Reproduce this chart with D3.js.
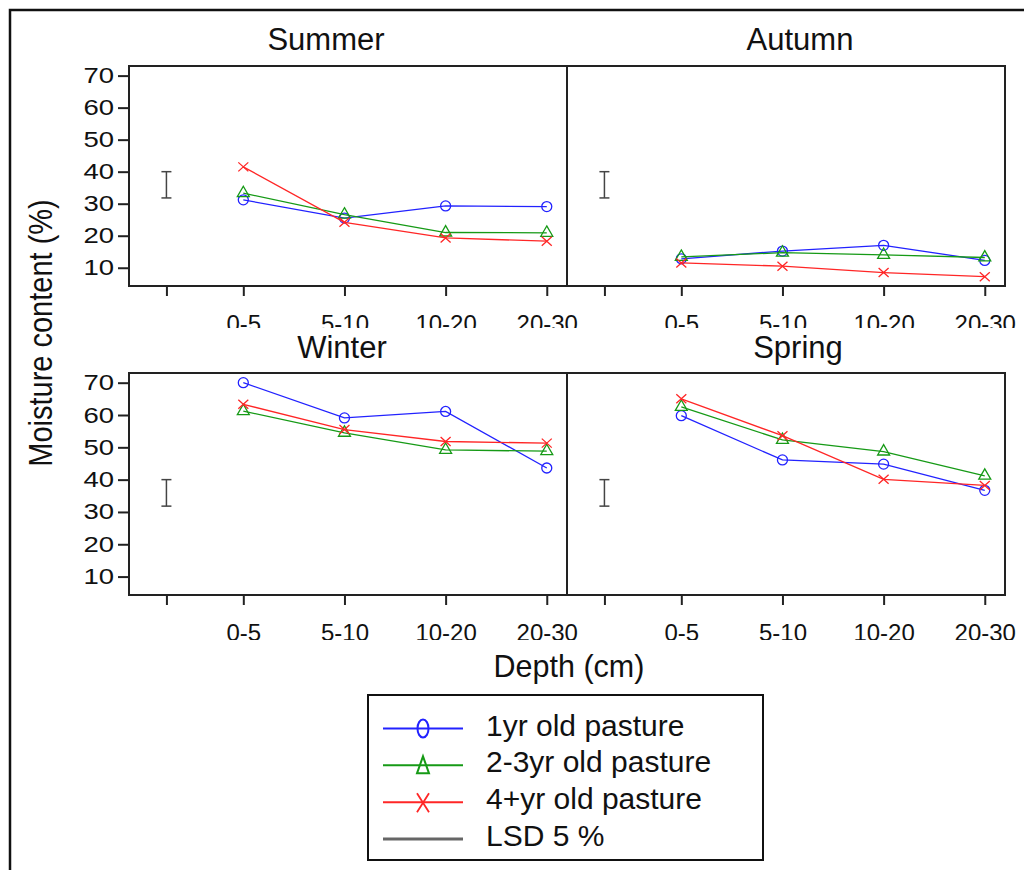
<!DOCTYPE html>
<html>
<head>
<meta charset="utf-8">
<script src="https://cdn.jsdelivr.net/npm/d3@7"></script>
<style>
  body { margin: 0; background: #fff; }
  text { font-family: "Liberation Sans", Arial, sans-serif; fill: #111; }
</style>
</head>
<body>
<svg id="chart"></svg>
<script>
// ---- data ----
const seasons = ["Summer", "Autumn", "Winter", "Spring"];
const depths = ["0-5", "5-10", "10-20", "20-30"];
const pastures = ["1yr old pasture", "2-3yr old pasture", "4+yr old pasture"];
const yTicks = [10, 20, 30, 40, 50, 60, 70];

// moisture content (%) per season, by depth
const oneYr = [
  [31.2, 25.5, 29.3, 29.1],
  [12.8, 15.2, 17.0, 12.3],
  [70.0, 59.1, 61.1, 43.6],
  [59.8, 46.1, 44.8, 36.7]
];
const twoThreeYr = [
  [33.3, 26.6, 21.0, 20.9],
  [13.4, 14.7, 14.0, 13.2],
  [61.2, 54.5, 49.2, 48.8],
  [62.5, 52.3, 48.7, 41.2]
];
const fourPlusYr = [
  [41.5, 24.2, 19.3, 18.3],
  [11.5, 10.5, 8.5, 7.2],
  [63.3, 55.5, 51.8, 51.3],
  [65.0, 53.6, 40.1, 38.2]
];
// LSD 5% bar (low, high), same in every panel
const lsdLow = [31.8, 31.8, 31.8, 31.8];
const lsdHigh = [40, 40, 40, 40];

// ---- layout ----
const width = 1024, height = 870;
const colX = [[129, 567], [567, 1005]];
const rowY = [[66, 286], [373, 595]];
const titleX = [326, 800, 342, 798];
const titleY = [50, 50, 358, 358];
const clipY = [[0, 328], [328, 640]];
const lsdPos = 0.24;

const colors = ["#2222ff", "#169a16", "#ff2626"];
const shapes = ["circle", "triangle", "cross"];
const series = [oneYr, twoThreeYr, fourPlusYr];

const svg = d3.select("#chart")
  .attr("width", width)
  .attr("height", height);

// outer frame
svg.append("rect")
  .attr("x", 10).attr("y", 10)
  .attr("width", 1040).attr("height", 900)
  .attr("fill", "none")
  .attr("stroke", "#111")
  .attr("stroke-width", 2.5);

const defs = svg.append("defs");
clipY.forEach((c, i) => {
  defs.append("clipPath").attr("id", "clipRow" + i)
    .append("rect")
    .attr("x", 0).attr("y", c[0])
    .attr("width", width).attr("height", c[1] - c[0]);
});

function drawMarker(g, shape, x, y, color) {
  if (shape === "circle") {
    g.append("circle").attr("cx", x).attr("cy", y).attr("r", 5)
      .attr("fill", "none").attr("stroke", color).attr("stroke-width", 1.3);
  } else if (shape === "triangle") {
    g.append("path")
      .attr("d", d3.symbol(d3.symbolTriangle, 62)())
      .attr("transform", `translate(${x},${y})`)
      .attr("fill", "none").attr("stroke", color).attr("stroke-width", 1.3);
  } else {
    g.append("path")
      .attr("d", "M-5,-4.5L5,4.5M-5,4.5L5,-4.5")
      .attr("transform", `translate(${x},${y})`)
      .attr("fill", "none").attr("stroke", color).attr("stroke-width", 1.3);
  }
}

seasons.forEach((season, si) => {
  const col = si % 2, row = Math.floor(si / 2);
  const x = d3.scaleLinear().domain([-0.13, 4.2]).range(colX[col]);
  const y = d3.scaleLinear().domain([4.3, 73]).range([rowY[row][1], rowY[row][0]]);
  const g = svg.append("g");

  // title
  g.append("text")
    .attr("x", titleX[si]).attr("y", titleY[si])
    .attr("text-anchor", "middle")
    .style("font-size", "31px")
    .text(season);

  // y axis on left column only
  if (col === 0) {
    const ya = g.append("g")
      .attr("transform", `translate(${colX[0][0]},0)`)
      .call(d3.axisLeft(y).tickValues(yTicks).tickSize(11).tickPadding(4));
    ya.select(".domain").remove();
    ya.selectAll(".tick line").attr("stroke", "#222").attr("stroke-width", 2);
    ya.selectAll(".tick text")
      .attr("x", -15 / 1.25)
      .attr("transform", "scale(1.25,1)")
      .style("font-size", "22px")
      .attr("fill", "#222");
  }

  // x axis (ticks at LSD position + depths), labels cut off like the original
  const xa = g.append("g")
    .attr("clip-path", `url(#clipRow${row})`)
    .append("g")
    .attr("transform", `translate(0,${rowY[row][1]})`)
    .call(d3.axisBottom(x)
      .tickValues([lsdPos, 1, 2, 3, 4])
      .tickFormat(v => v < 1 ? "" : depths[v - 1])
      .tickSize(10).tickPadding(19));
  xa.select(".domain").remove();
  xa.selectAll(".tick line").attr("stroke", "#222").attr("stroke-width", 2);
  xa.selectAll(".tick text")
    .style("font-size", "24px")
    .attr("fill", "#222");

  // panel box
  g.append("rect")
    .attr("x", colX[col][0]).attr("y", rowY[row][0])
    .attr("width", colX[col][1] - colX[col][0])
    .attr("height", rowY[row][1] - rowY[row][0])
    .attr("fill", "none")
    .attr("stroke", "#222")
    .attr("stroke-width", 2);

  // LSD bar
  const lx = x(lsdPos);
  const lg = g.append("g").attr("stroke", "#444").attr("stroke-width", 1.5);
  lg.append("line").attr("x1", lx).attr("x2", lx)
    .attr("y1", y(lsdLow[si])).attr("y2", y(lsdHigh[si]));
  [lsdLow[si], lsdHigh[si]].forEach(v => {
    lg.append("line").attr("x1", lx - 5).attr("x2", lx + 5)
      .attr("y1", y(v)).attr("y2", y(v));
  });

  // series
  const line = d3.line().x((d, i) => x(i + 1)).y(d => y(d));
  series.forEach((s, k) => {
    const vals = s[si];
    g.append("path")
      .attr("d", line(vals))
      .attr("fill", "none")
      .attr("stroke", colors[k])
      .attr("stroke-width", 1.3);
    vals.forEach((v, i) => drawMarker(g, shapes[k], x(i + 1), y(v), colors[k]));
  });
});

// axis titles
svg.append("text")
  .attr("transform", "translate(52,333) rotate(-90) scale(1,1.17)")
  .attr("text-anchor", "middle")
  .style("font-size", "29px")
  .text("Moisture content (%)");

svg.append("text")
  .attr("x", 569).attr("y", 677)
  .attr("text-anchor", "middle")
  .style("font-size", "30.5px")
  .text("Depth (cm)");

// legend
const leg = svg.append("g");
leg.append("rect")
  .attr("x", 368).attr("y", 695)
  .attr("width", 395).attr("height", 165)
  .attr("fill", "#fff")
  .attr("stroke", "#111")
  .attr("stroke-width", 2);

const legendLabels = pastures.concat(["LSD 5 %"]);
const legY = d3.scaleLinear().domain([0, 3]).range([728.5, 839]);
legendLabels.forEach((lab, i) => {
  const yy = legY(i);
  const c = i < 3 ? colors[i] : "#666";
  leg.append("line")
    .attr("x1", 383).attr("x2", 463)
    .attr("y1", yy).attr("y2", yy)
    .attr("stroke", c)
    .attr("stroke-width", i < 3 ? 2 : 3);
  if (i === 0) {
    leg.append("ellipse").attr("cx", 423).attr("cy", yy)
      .attr("rx", 5.5).attr("ry", 9)
      .attr("fill", "none").attr("stroke", c).attr("stroke-width", 2);
  } else if (i === 1) {
    leg.append("path")
      .attr("d", `M${423},${yy - 9}L${429},${yy + 8}L${417},${yy + 8}Z`)
      .attr("fill", "none").attr("stroke", c).attr("stroke-width", 2);
  } else if (i === 2) {
    leg.append("path")
      .attr("d", `M${417},${yy - 9}L${429},${yy + 10}M${417},${yy + 10}L${429},${yy - 9}`)
      .attr("fill", "none").attr("stroke", c).attr("stroke-width", 1.8);
  }
  leg.append("text")
    .attr("x", 486).attr("y", yy + 7)
    .style("font-size", "30px")
    .text(lab);
});
</script>
</body>
</html>
